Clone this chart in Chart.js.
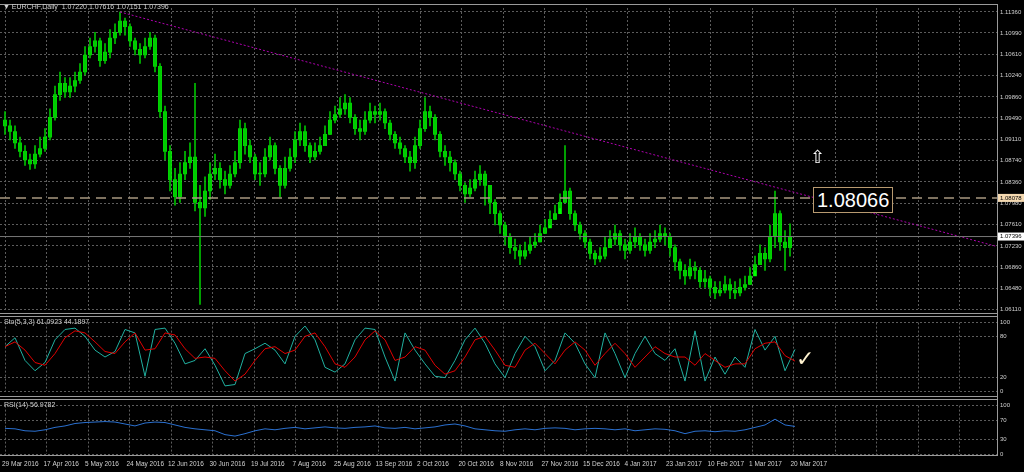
<!DOCTYPE html>
<html>
<head>
<meta charset="utf-8">
<script src="https://cdn.jsdelivr.net/npm/chart.js@4"></script>
<style>
  body { margin:0; background:#000; width:1024px; height:472px; overflow:hidden; position:relative; font-family:"Liberation Sans", sans-serif; }
  canvas { position:absolute; left:0; }
  .lbl { position:absolute; color:#d0d0d0; font-size:7px; white-space:nowrap; }
  .sep { position:absolute; left:0; width:997px; height:1px; background:#9a9a9a; }
</style>
</head>
<body>
<canvas id="main" style="top:0px" width="1024" height="316"></canvas>
<canvas id="sto" style="top:316px" width="1024" height="82"></canvas>
<canvas id="rsi" style="top:399px" width="1024" height="73"></canvas>
<div class="sep" style="top:4px"></div>
<div class="sep" style="top:313px"></div><div class="sep" style="top:316px"></div>
<div class="sep" style="top:396px"></div><div class="sep" style="top:399px"></div>
<div class="sep" style="top:455px"></div>
<div style="position:absolute;left:997px;top:4px;width:1px;height:452px;background:#9a9a9a"></div>
<div class="lbl" style="left:3px;top:3px">&#9660; EURCHF,Daily&nbsp; 1.07220 1.07616 1.07151 1.07396</div>
<div class="lbl" style="left:4px;top:318px">Sto(5,3,3) 61.0923 44.1897</div>
<div class="lbl" style="left:4px;top:401px">RSI(14) 56.9782</div>
<div style="position:absolute;left:813px;top:187px;padding:0 3px;border:1px solid #b89a70;background:#000;color:#fff;font-size:20px;line-height:24px">1.08066</div>
<div style="position:absolute;left:810px;top:146px;color:#fff;font-size:18px">&#8679;</div>
<div style="position:absolute;left:796px;top:346px;color:#fff3d0;font-size:22px">&#10003;</div>
<script>
// candles every ~1.6 trading days, 29 Mar 2016 .. 20 Mar 2017
var closes = [1.0935,1.0925,1.0905,1.0890,1.0875,1.0868,1.0885,1.0895,1.0915,1.0950,
  1.0990,1.1010,1.0995,1.1005,1.1015,1.1030,1.1060,1.1075,1.1085,1.1050,
  1.1065,1.1090,1.1100,1.1120,1.1110,1.1085,1.1070,1.1060,1.1075,1.1090,
  1.1040,1.0960,1.0890,1.0840,1.0810,1.0850,1.0870,1.0880,1.0800,1.0790,
  1.0820,1.0850,1.0860,1.0840,1.0830,1.0850,1.0870,1.0930,1.0900,1.0880,
  1.0850,1.0850,1.0880,1.0900,1.0860,1.0830,1.0860,1.0880,1.0910,1.0925,
  1.0900,1.0880,1.0890,1.0900,1.0920,1.0945,1.0955,1.0965,1.0975,1.0950,
  1.0930,1.0925,1.0945,1.0960,1.0955,1.0960,1.0940,1.0920,1.0905,1.0895,
  1.0880,1.0870,1.0900,1.0930,1.0960,1.0950,1.0920,1.0890,1.0880,1.0870,
  1.0850,1.0830,1.0815,1.0825,1.0840,1.0850,1.0830,1.0800,1.0780,1.0760,
  1.0740,1.0720,1.0715,1.0705,1.0715,1.0725,1.0730,1.0745,1.0755,1.0770,
  1.0780,1.0800,1.0820,1.0780,1.0760,1.0745,1.0730,1.0710,1.0700,1.0705,
  1.0720,1.0735,1.0745,1.0725,1.0715,1.0730,1.0740,1.0725,1.0715,1.0730,
  1.0735,1.0745,1.0740,1.0720,1.0695,1.0680,1.0670,1.0685,1.0680,1.0660,
  1.0665,1.0650,1.0640,1.0645,1.0655,1.0645,1.0640,1.0650,1.0655,1.0670,
  1.0690,1.0710,1.0700,1.0740,1.0780,1.0730,1.0720,1.07396];
var highs = [1.0960,1.0945,1.0935,1.0915,1.0900,1.0885,1.0900,1.0915,1.0930,1.0965,
  1.1005,1.1030,1.1020,1.1020,1.1030,1.1045,1.1075,1.1090,1.1100,1.1090,
  1.1080,1.1105,1.1115,1.1136,1.1125,1.1115,1.1090,1.1080,1.1090,1.1100,
  1.1095,1.1045,1.0970,1.0900,1.0860,1.0870,1.0890,1.0905,1.1010,1.0830,
  1.0845,1.0870,1.0885,1.0870,1.0855,1.0865,1.0890,1.0945,1.0940,1.0910,
  1.0885,1.0870,1.0895,1.0915,1.0905,1.0865,1.0880,1.0895,1.0925,1.0940,
  1.0935,1.0905,1.0905,1.0915,1.0935,1.0960,1.0970,1.0985,1.0990,1.0985,
  1.0955,1.0945,1.0960,1.0975,1.0970,1.0975,1.0965,1.0945,1.0925,1.0915,
  1.0900,1.0890,1.0915,1.0945,1.0985,1.0970,1.0955,1.0925,1.0900,1.0890,
  1.0875,1.0855,1.0835,1.0840,1.0855,1.0865,1.0855,1.0830,1.0805,1.0785,
  1.0765,1.0745,1.0735,1.0725,1.0730,1.0740,1.0745,1.0760,1.0770,1.0785,
  1.0795,1.0815,1.0900,1.0825,1.0785,1.0765,1.0750,1.0735,1.0715,1.0720,
  1.0740,1.0750,1.0760,1.0750,1.0735,1.0745,1.0755,1.0745,1.0735,1.0745,
  1.0750,1.0760,1.0755,1.0745,1.0725,1.0700,1.0690,1.0700,1.0695,1.0685,
  1.0680,1.0670,1.0660,1.0660,1.0670,1.0665,1.0660,1.0665,1.0670,1.0685,
  1.0705,1.0725,1.0720,1.0760,1.0820,1.0785,1.0750,1.0762];
var lows = [1.0920,1.0910,1.0895,1.0880,1.0865,1.0858,1.0860,1.0880,1.0890,1.0910,
  1.0945,1.0980,1.0985,1.0985,1.0995,1.1010,1.1025,1.1055,1.1065,1.1040,
  1.1045,1.1055,1.1080,1.1095,1.1095,1.1075,1.1060,1.1045,1.1055,1.1070,
  1.1030,1.0950,1.0875,1.0820,1.0795,1.0800,1.0840,1.0860,1.0785,1.0620,
  1.0775,1.0805,1.0840,1.0825,1.0815,1.0825,1.0845,1.0860,1.0885,1.0870,
  1.0840,1.0830,1.0845,1.0875,1.0850,1.0810,1.0825,1.0855,1.0870,1.0900,
  1.0890,1.0870,1.0875,1.0885,1.0900,1.0920,1.0940,1.0950,1.0955,1.0940,
  1.0920,1.0910,1.0920,1.0940,1.0940,1.0945,1.0930,1.0910,1.0895,1.0885,
  1.0870,1.0855,1.0860,1.0895,1.0925,1.0935,1.0910,1.0880,1.0865,1.0855,
  1.0840,1.0820,1.0800,1.0810,1.0820,1.0830,1.0795,1.0780,1.0760,1.0745,
  1.0725,1.0710,1.0700,1.0690,1.0700,1.0710,1.0720,1.0730,1.0745,1.0760,
  1.0770,1.0790,1.0800,1.0770,1.0750,1.0735,1.0720,1.0700,1.0690,1.0695,
  1.0700,1.0720,1.0725,1.0715,1.0700,1.0710,1.0720,1.0715,1.0705,1.0710,
  1.0720,1.0730,1.0725,1.0705,1.0680,1.0665,1.0655,1.0665,1.0665,1.0650,
  1.0650,1.0635,1.0630,1.0635,1.0640,1.0630,1.0630,1.0635,1.0645,1.0655,
  1.0680,1.0690,1.0680,1.0695,1.0720,1.0715,1.0680,1.0705];
var firstOpen = 1.0945;

// indicators sampled every second candle
var stoMain = [65,78,45,30,42,75,90,92,80,60,
  50,58,90,85,22,90,92,70,40,45,
  62,38,8,10,55,62,70,60,40,80,
  95,75,35,28,40,75,92,90,50,15,
  85,60,40,22,20,45,75,92,70,40,
  20,55,80,65,30,45,85,70,40,20,
  85,55,20,55,80,55,45,62,15,88,
  15,50,25,50,35,90,60,80,30,61];
var stoSignal = [65,72,60,42,38,55,78,88,85,72,
  58,55,72,85,60,62,85,82,62,48,
  50,48,30,15,25,45,62,65,55,60,
  80,85,65,40,35,50,75,88,75,45,
  50,65,60,38,25,30,50,75,80,60,
  38,35,60,70,55,40,60,72,60,38,
  55,70,55,35,50,65,55,50,50,38,
  55,45,35,40,40,62,70,72,52,44];
var rsiVals = [53,52,48,47,50,55,58,63,65,66,
  67,66,62,58,64,66,65,60,55,52,
  50,48,40,37,42,48,52,50,53,55,
  52,54,56,54,53,55,56,58,54,53,
  55,52,54,56,60,62,58,52,50,48,
  47,50,52,50,53,54,53,50,52,53,
  52,50,52,48,50,52,51,48,42,47,
  48,46,48,47,50,55,60,72,60,57];

var priceTicks = [1.06110,1.06480,1.06860,1.07230,1.07610,1.07980,1.08360,1.08740,1.09110,1.09490,1.09860,1.10240,1.10610,1.10990,1.11360];
var dateLabels = ["29 Mar 2016","17 Apr 2016","5 May 2016","24 May 2016","12 Jun 2016","30 Jun 2016","19 Jul 2016","7 Aug 2016","25 Aug 2016","13 Sep 2016","2 Oct 2016","20 Oct 2016","8 Nov 2016","27 Nov 2016","15 Dec 2016","4 Jan 2017","23 Jan 2017","10 Feb 2017","1 Mar 2017","20 Mar 2017"];
var trendX = [23, 198.4], trendY = [1.1136, 1.0722];
var levelLine = 1.08078, lastPrice = 1.07396;

var gridStep = 8.3, gridCount = 24;
var xMin = -1, xMax = 198.4;
var gridColor = '#5c5c5c';
var smallFont = '6px "Liberation Sans"';

function xGrid(s) {
  s.ticks = [];
  for (var j = 0; j < gridCount; j++) s.ticks.push({value: j * gridStep});
}
function fixWidth(s) { s.width = 27; }
function xAxis() {
  return { type:'linear', min:xMin, max:xMax, offset:false, afterBuildTicks:xGrid,
    grid:{color:gridColor, drawTicks:false, offset:false}, border:{display:false, dash:[2,2]},
    ticks:{display:false} };
}
function yAxis(extra) {
  var a = { position:'right', afterFit:fixWidth,
    grid:{color:gridColor, drawTicks:false}, border:{display:false, dash:[2,2]},
    ticks:{color:'#d0d0d0', font:{size:6, family:'Liberation Sans'}, padding:3} };
  for (var k in extra) a[k] = extra[k];
  return a;
}
Chart.defaults.animation = false;
Chart.defaults.plugins.legend.display = false;
Chart.defaults.plugins.tooltip.enabled = false;

var bodies = [], wicks = [];
for (var i = 0; i < closes.length; i++) {
  var o = i === 0 ? firstOpen : closes[i - 1];
  bodies.push({x:i, y:[o, closes[i]]});
  wicks.push({x:i, y:[lows[i], highs[i]]});
}

var priceBoxes = {
  id:'priceBoxes',
  afterDraw: function(c) {
    var ctx = c.ctx, y = c.scales.y;
    [[levelLine, '#f5d9b0'], [lastPrice, '#ffffff']].forEach(function(p) {
      var py = y.getPixelForValue(p[0]);
      ctx.fillStyle = p[1];
      ctx.fillRect(998, py - 4, 26, 8);
      ctx.fillStyle = '#000';
      ctx.font = smallFont;
      ctx.textBaseline = 'middle';
      ctx.fillText(p[0].toFixed(5), 1000, py);
    });
  }
};

new Chart(document.getElementById('main'), {
  type:'bar',
  data:{ datasets:[
    {type:'line', data:[{x:xMin,y:lastPrice},{x:xMax,y:lastPrice}], borderColor:'#777', borderWidth:1, pointRadius:0},
    {type:'line', data:[{x:xMin,y:levelLine},{x:xMax,y:levelLine}], borderColor:'#a89880', borderWidth:1.5, borderDash:[10,6], pointRadius:0},
    {type:'line', data:[{x:trendX[0],y:trendY[0]},{x:trendX[1],y:trendY[1]}], borderColor:'#b000b0', borderWidth:1, borderDash:[2,2], pointRadius:0},
    {data:wicks, backgroundColor:'#00c000', barThickness:1, grouped:false},
    {data:bodies, backgroundColor:'#00ff00', barThickness:3, minBarLength:1, grouped:false}
  ]},
  options:{ responsive:false, layout:{padding:{top:8, bottom:3}},
    scales:{ x:xAxis(), y:yAxis({min:1.0611, max:1.1143, afterBuildTicks:function(s){ s.ticks = priceTicks.map(function(v){return {value:v};}); },
      ticks:{color:'#d0d0d0', font:{size:6, family:'Liberation Sans'}, padding:3, callback:function(v){ return v.toFixed(5); }}}) } },
  plugins:[priceBoxes]
});

var half = function(arr) { return arr.map(function(v, k){ return {x:2*k, y:v}; }); };

new Chart(document.getElementById('sto'), {
  type:'line',
  data:{ datasets:[
    {data:half(stoSignal), borderColor:'#e00000', borderWidth:1, pointRadius:0},
    {data:half(stoMain), borderColor:'#20b0a0', borderWidth:1, pointRadius:0}
  ]},
  options:{ responsive:false, layout:{padding:{top:4, bottom:4}},
    scales:{ x:xAxis(), y:yAxis({min:0, max:100, afterBuildTicks:function(s){ s.ticks = [{value:0},{value:20},{value:80},{value:100}]; }}) } }
});

var dateAxis = {
  id:'dateAxis',
  afterDraw: function(c) {
    var ctx = c.ctx, x = c.scales.x;
    ctx.fillStyle = '#d0d0d0';
    ctx.font = '6.5px "Liberation Sans"';
    ctx.textBaseline = 'middle';
    dateLabels.forEach(function(t, j) {
      ctx.fillText(t, x.getPixelForValue(j * gridStep) - 3, c.chartArea.bottom + 10);
    });
  }
};

new Chart(document.getElementById('rsi'), {
  type:'line',
  data:{ datasets:[
    {data:half(rsiVals), borderColor:'#2a70d0', borderWidth:1, pointRadius:0}
  ]},
  options:{ responsive:false, layout:{padding:{top:6, bottom:18}},
    scales:{ x:xAxis(), y:yAxis({min:0, max:100, afterBuildTicks:function(s){ s.ticks = [{value:0},{value:30},{value:70},{value:100}]; }}) } },
  plugins:[dateAxis]
});
</script>
</body>
</html>
